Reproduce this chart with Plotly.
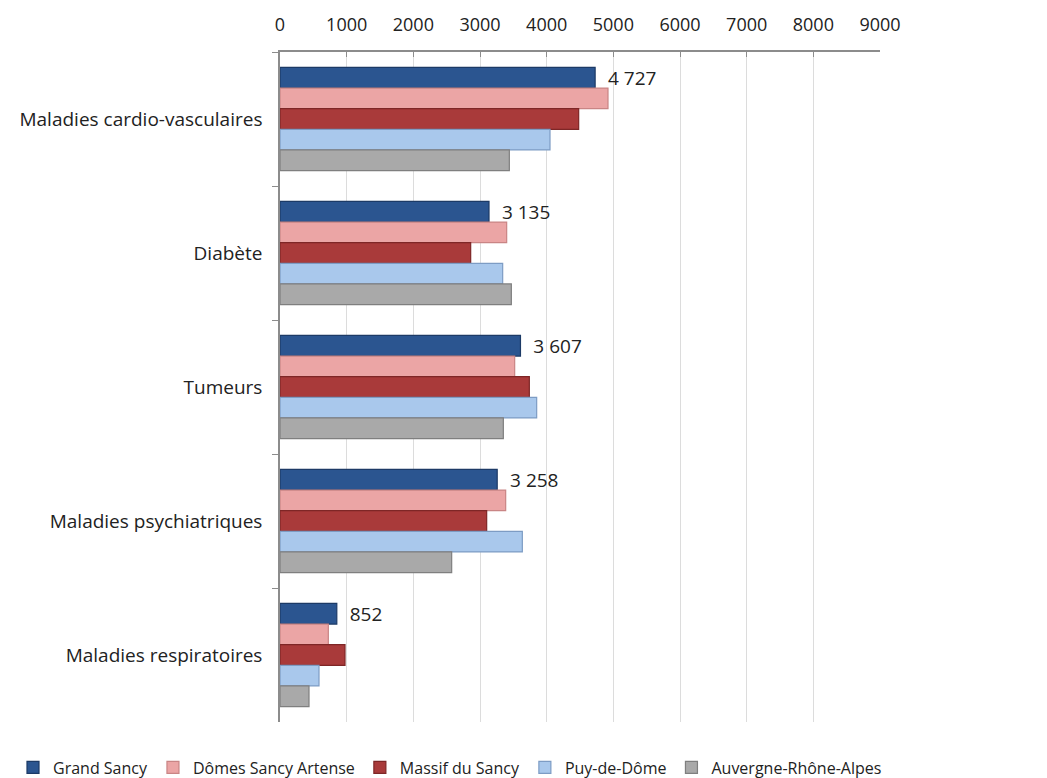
import plotly.graph_objects as go

categories = ["Maladies cardio-vasculaires", "Diabète", "Tumeurs",
              "Maladies psychiatriques", "Maladies respiratoires"]
series_names = ["Grand Sancy", "Dômes Sancy Artense", "Massif du Sancy",
                "Puy-de-Dôme", "Auvergne-Rhône-Alpes"]
grand_sancy = [4727, 3135, 3607, 3258, 852]
domes_sancy_artense = [4920, 3400, 3520, 3385, 725]
massif_du_sancy = [4480, 2860, 3740, 3100, 975]
puy_de_dome = [4050, 3340, 3850, 3635, 585]
auvergne_rhone_alpes = [3440, 3470, 3350, 2575, 435]
x_ticks = [0, 1000, 2000, 3000, 4000, 5000, 6000, 7000, 8000, 9000]

values = [grand_sancy, domes_sancy_artense, massif_du_sancy, puy_de_dome, auvergne_rhone_alpes]
fills = ["#2b5590", "#eba5a5", "#a93a3a", "#a9c8ec", "#a9a9a9"]
edges = ["#1c3a66", "#c98585", "#7e2626", "#7d9cc4", "#7f7f7f"]

def fmt(v):
    return f"{v:,}".replace(",", " ")

fig = go.Figure()
for i, (name, vals) in enumerate(zip(series_names, values)):
    fig.add_trace(go.Bar(
        y=categories, x=vals, name=name, orientation="h",
        marker=dict(color=fills[i], line=dict(color=edges[i], width=1.2)),
        text=["  " + fmt(v) for v in vals] if i == 0 else None,
        textposition="outside" if i == 0 else "none",
        constraintext="none",
        textfont=dict(size=19, color="#222"),
        cliponaxis=False,
    ))

fig.update_layout(
    width=1047, height=778,
    barmode="group", bargap=0.23, bargroupgap=0,
    paper_bgcolor="white", plot_bgcolor="white",
    margin=dict(l=280, r=167, t=52, b=56, autoexpand=False),
    font=dict(family="Open Sans, Liberation Sans, sans-serif", size=17, color="#222"),
    legend=dict(orientation="h", x=-0.445, xref="paper", xanchor="left",
                y=-0.068, yref="paper", yanchor="middle",
                font=dict(size=16), itemwidth=30, traceorder="normal"),
    showlegend=True,
)
fig.update_xaxes(side="top", range=[0, 9000], tickvals=x_ticks,
                 ticktext=[str(t) for t in x_ticks],
                 showgrid=True, gridcolor="#dcdcdc", gridwidth=1,
                 showline=True, linecolor="#8c8c8c", linewidth=1.5,
                 ticks="inside", ticklen=5, tickcolor="#8c8c8c",
                 tickfont=dict(size=18), ticklabelstandoff=12, zeroline=False)
fig.update_yaxes(autorange="reversed", showline=True, linecolor="#8c8c8c",
                 linewidth=1.5, ticks="outside", tickson="boundaries",
                 ticklen=6, tickcolor="#8c8c8c", tickfont=dict(size=19),
                 ticklabelstandoff=12)

fig.write_html("out.html")
